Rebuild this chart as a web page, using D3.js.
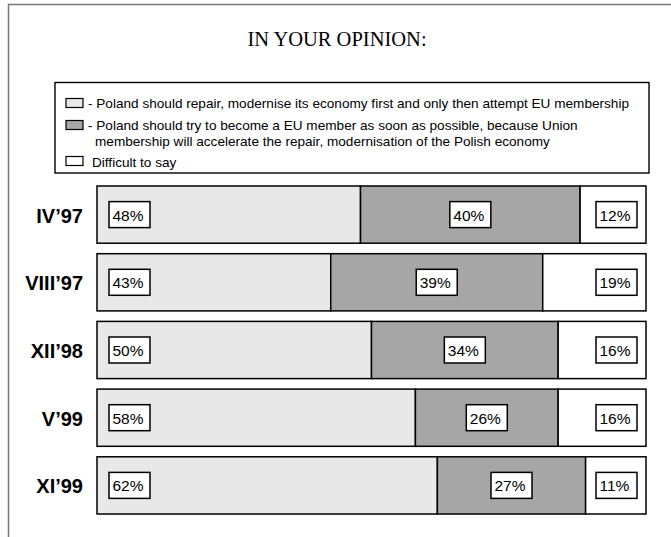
<!DOCTYPE html>
<html>
<head>
<meta charset="utf-8">
<script src="https://cdn.jsdelivr.net/npm/d3@7/dist/d3.min.js"></script>
<style>
  html, body { margin: 0; padding: 0; background: #fff; }
  svg { display: block; }
</style>
</head>
<body>
<svg id="chart" width="671" height="537"></svg>
<script>
const title = "IN YOUR OPINION:";
const categories = ["IV’97", "VIII’97", "XII’98", "V’99", "XI’99"];
const seriesKeys = ["first", "asap", "difficult"];
const seriesNames = [
  ["- Poland should repair, modernise its economy first and only then attempt EU membership"],
  ["- Poland should try to become a EU member as soon as possible, because Union",
   "membership will accelerate the repair, modernisation of the Polish economy"],
  ["Difficult to say"]
];
const firstValues = [48, 43, 50, 58, 62];
const asapValues = [40, 39, 34, 26, 27];
const difficultValues = [12, 19, 16, 16, 11];
const colors = ["#e8e8e8", "#a6a6a6", "#ffffff"];

const data = categories.map((c, i) => ({
  cat: c, first: firstValues[i], asap: asapValues[i], difficult: difficultValues[i]
}));

const svg = d3.select("#chart");
const W = 671, H = 537;
const sans = "'Liberation Sans', Arial, sans-serif";

// frame
svg.append("path")
  .attr("d", `M8.5,${H} L8.5,4.5 L${W},4.5`)
  .attr("fill", "none").attr("stroke", "#777").attr("stroke-width", 1.5);

// title
svg.append("text")
  .attr("x", 337).attr("y", 46)
  .attr("text-anchor", "middle")
  .attr("font-family", "'Liberation Serif', 'Times New Roman', serif")
  .attr("font-size", 20.5)
  .attr("fill", "#000")
  .text(title);

// legend
const lg = svg.append("g");
lg.append("rect").attr("x", 55).attr("y", 82.5).attr("width", 594).attr("height", 90.5)
  .attr("fill", "#fff").attr("stroke", "#000").attr("stroke-width", 1.4);
const swatchCY = [103, 125, 161];
const textBase = [[108], [130, 145.5], [166.5]];
const legendTextX = [88, 88, 92];
seriesNames.forEach((lines, i) => {
  lg.append("rect").attr("x", 66).attr("y", swatchCY[i] - 4.5).attr("width", 17).attr("height", 9)
    .attr("fill", colors[i]).attr("stroke", "#000").attr("stroke-width", 1.2);
  lines.forEach((ln, j) => {
    lg.append("text")
      .attr("x", legendTextX[i] + (j > 0 ? 7 : 0))
      .attr("y", textBase[i][j])
      .attr("font-family", sans)
      .attr("font-size", 13.6)
      .attr("fill", "#000")
      .text(ln);
  });
});

// bars
const x = d3.scaleLinear().domain([0, 1]).range([97, 646]);
const y = d3.scaleBand().domain(categories).range([186, 514]).paddingInner(0.155).paddingOuter(0);

const stack = d3.stack().keys(seriesKeys).offset(d3.stackOffsetExpand);
const stacked = stack(data);

const gBars = svg.append("g");
stacked.forEach((s, si) => {
  gBars.selectAll(null).data(s).enter().append("rect")
    .attr("x", d => x(d[0]))
    .attr("y", d => y(d.data.cat))
    .attr("width", d => x(d[1]) - x(d[0]))
    .attr("height", y.bandwidth())
    .attr("fill", colors[si])
    .attr("stroke", "#000")
    .attr("stroke-width", 1.5);
});

// category labels
svg.append("g").selectAll("text").data(categories).enter().append("text")
  .attr("x", 83)
  .attr("y", d => y(d) + y.bandwidth() / 2 + 8)
  .attr("text-anchor", "end")
  .attr("font-family", sans)
  .attr("font-weight", "bold")
  .attr("font-size", 20)
  .attr("fill", "#000")
  .text(d => d);

// value label boxes
const boxW = 41, boxH = 26;
const gLab = svg.append("g");
stacked.forEach((s, si) => {
  s.forEach(d => {
    let bx;
    if (si === 0) bx = x(d[0]) + 12;
    else if (si === 1) bx = (x(d[0]) + x(d[1])) / 2 - boxW / 2;
    else bx = x(1) - 9 - boxW;
    const cy = y(d.data.cat) + y.bandwidth() / 2;
    const by = cy - boxH / 2;
    const v = d.data[seriesKeys[si]];
    gLab.append("rect").attr("x", bx).attr("y", by).attr("width", boxW).attr("height", boxH)
      .attr("fill", "#fff").attr("stroke", "#000").attr("stroke-width", 1.5);
    gLab.append("text").attr("x", bx + 3.5).attr("y", cy + 6)
      .attr("text-anchor", "start")
      .attr("font-family", sans)
      .attr("font-size", 15.5)
      .attr("fill", "#000")
      .text(v + "%");
  });
});
</script>
</body>
</html>
